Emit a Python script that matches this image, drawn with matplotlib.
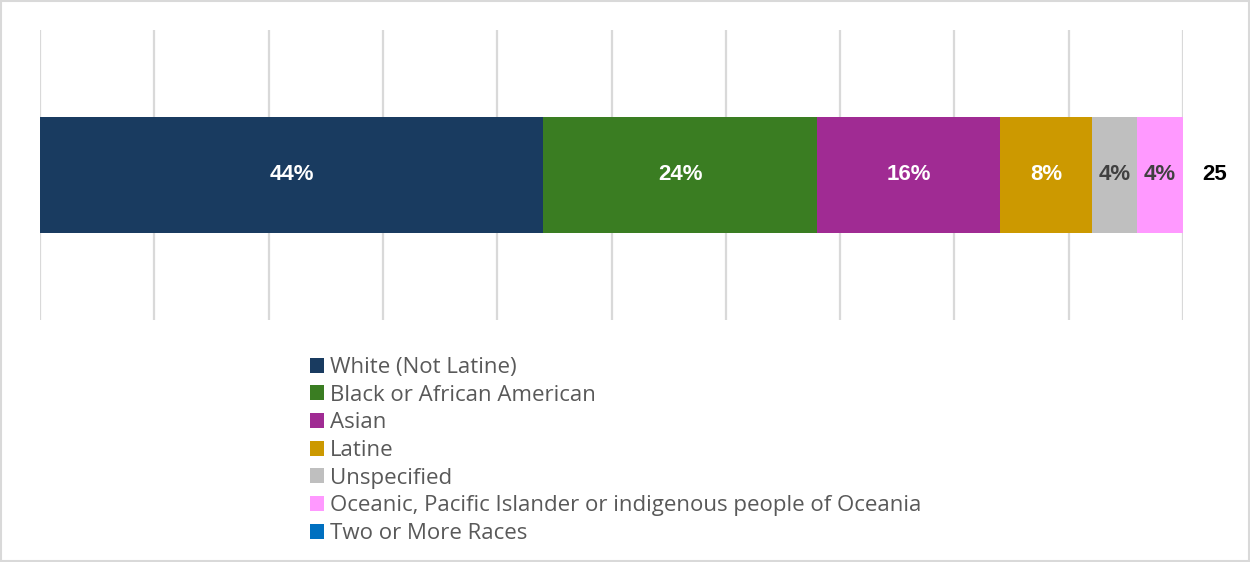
import matplotlib
matplotlib.use("Agg")
import matplotlib.pyplot as plt
from matplotlib.patches import Patch

# Respondents by race/ethnicity (counts out of the total)
categories = [
    "White (Not Latine)",
    "Black or African American",
    "Asian",
    "Latine",
    "Unspecified",
    "Oceanic, Pacific Islander or indigenous people of Oceania",
    "Two or More Races",
]
counts = [11, 6, 4, 2, 1, 1, 0]
colors = ["#193B60", "#3A7D22", "#A02B93", "#CC9900", "#BFBFBF", "#FF99FF", "#0070C0"]
label_colors = ["white", "white", "white", "white", "#404040", "#404040", "#404040"]
total = sum(counts)

fig = plt.figure(figsize=(12.5, 5.62), dpi=100)
ax = fig.add_axes([40 / 1250, 1 - 320 / 562, 1143 / 1250, 290 / 562])

left = 0
for cat, n, col, lc in zip(categories, counts, colors, label_colors):
    ax.barh(0, n, left=left, height=0.403, color=col, label=cat, zorder=2)
    if n > 0:
        ax.text(left + n / 2, 0, f"{n / total:.0%}", ha="center", va="center",
                color=lc, fontsize=16, fontweight="bold",
                family="Liberation Sans", zorder=3)
    left += n

# total at the end of the bar
ax.annotate(str(total), (total, 0), xytext=(23, 0), textcoords="offset points",
            ha="center", va="center", fontsize=16, fontweight="bold",
            family="Liberation Sans", color="black")

ax.set_xlim(0, total)
ax.set_ylim(-0.5, 0.5)
ax.set_xticks([total * i / 10 for i in range(11)])
ax.set_yticks([])
ax.tick_params(axis="x", length=0, labelbottom=False)
ax.grid(axis="x", color="#D9D9D9", linewidth=1.6, zorder=0)
for s in ax.spines.values():
    s.set_visible(False)

handles = [Patch(facecolor=c, edgecolor="none") for c in colors]
fig.legend(handles, categories, loc="upper left", bbox_to_anchor=(290 / 1250, 1 - 337 / 562),
           frameon=False, labelcolor="#595959",
           handlelength=0.65, handleheight=0.65, handletextpad=0.25, labelspacing=0.3,
           prop={"family": "Open Sans", "size": 16})

# light frame around the whole figure
fig.patches.append(plt.Rectangle((0.001, 0.001), 0.998, 0.997, transform=fig.transFigure,
                                 fill=False, edgecolor="#D9D9D9", linewidth=1.5))

fig.savefig("out.png", dpi=100, facecolor="white")
